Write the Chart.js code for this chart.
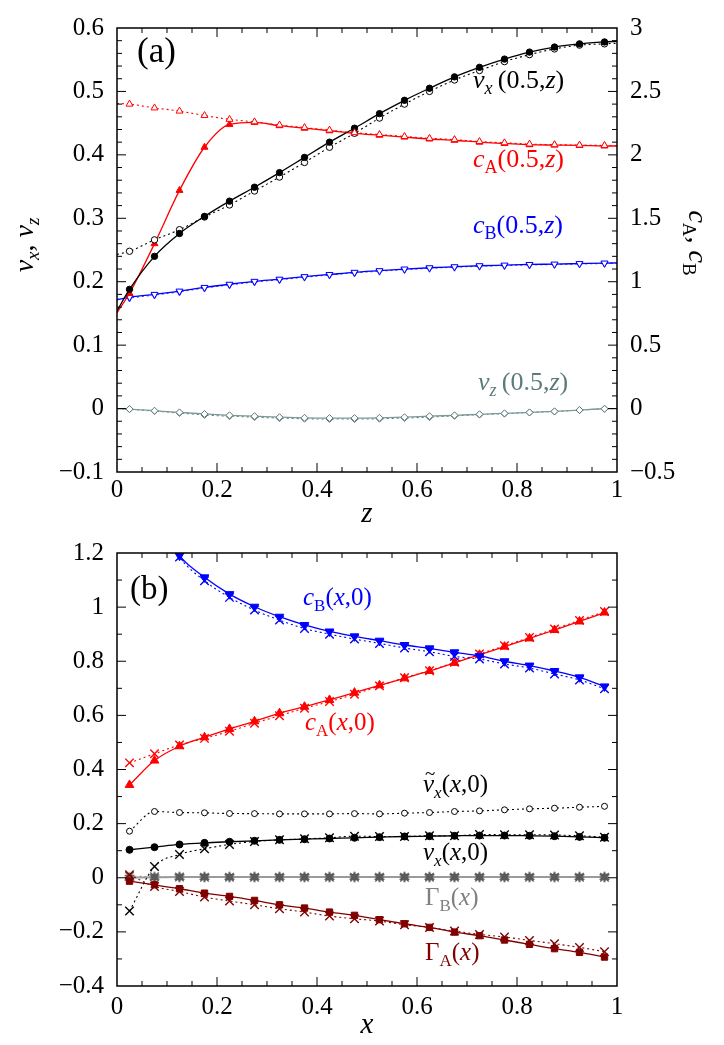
<!DOCTYPE html>
<html>
<head>
<meta charset="utf-8">
<script src="https://cdn.jsdelivr.net/npm/chart.js@4.4.0/dist/chart.umd.min.js"></script>
<style>
body { margin: 0; background: #fff; font-family: "Liberation Serif", serif; }
#wrap { position: relative; width: 724px; height: 1045px; }
canvas { position: absolute; left: 0; }
.probe { position: absolute; left: 0; top: 0; color: #fff; font-size: 10px; z-index: -1; }
</style>
</head>
<body>
<span class="probe">0.5 <i>x</i></span>
<div id="wrap">
<canvas id="chartA" width="724" height="525" style="top:0px"></canvas>
<canvas id="chartB" width="724" height="520" style="top:525px"></canvas>
</div>
<script>
var SERIF = '"Liberation Serif", serif';

// ---- panel (a): profiles along z at x = 0.5 (0 and 1 are curve ends only)
var zA = [0, 0.025, 0.075, 0.125, 0.175, 0.225, 0.275, 0.325, 0.375, 0.425, 0.475,
          0.525, 0.575, 0.625, 0.675, 0.725, 0.775, 0.825, 0.875, 0.925, 0.975, 1];
var vxSolidA = [0.154, 0.188, 0.240, 0.276, 0.303, 0.327, 0.349, 0.372, 0.396, 0.420, 0.442,
                0.465, 0.486, 0.505, 0.523, 0.538, 0.551, 0.562, 0.570, 0.575, 0.578, 0.579];
var vxOpenA = [0.243, 0.248, 0.266, 0.282, 0.302, 0.321, 0.343, 0.365, 0.388, 0.412, 0.434,
               0.458, 0.480, 0.500, 0.518, 0.533, 0.547, 0.558, 0.567, 0.573, 0.575, 0.576];
var cASolidA = [0.755, 0.909, 1.30, 1.72, 2.06, 2.24, 2.256, 2.23, 2.21, 2.19, 2.17,
                2.155, 2.14, 2.125, 2.115, 2.10, 2.09, 2.08, 2.077, 2.074, 2.07, 2.07];
var cAOpenA = [2.405, 2.40, 2.37, 2.345, 2.31, 2.28, 2.26, 2.235, 2.215, 2.195, 2.175,
               2.16, 2.145, 2.13, 2.12, 2.105, 2.095, 2.085, 2.08, 2.077, 2.074, 2.073];
var cBSolidA = [0.857, 0.878, 0.90, 0.926, 0.955, 0.98, 1.003, 1.02, 1.04, 1.057, 1.074,
                1.087, 1.10, 1.11, 1.118, 1.126, 1.131, 1.136, 1.139, 1.143, 1.147, 1.148];
var cBDotA = [0.862, 0.872, 0.895, 0.92, 0.95, 0.975, 0.998, 1.015, 1.036, 1.053, 1.07,
              1.083, 1.096, 1.106, 1.114, 1.122, 1.127, 1.132, 1.136, 1.14, 1.144, 1.146];
var vzSolidA = [0, -0.0008, -0.0034, -0.006, -0.0085, -0.0106, -0.012, -0.0136, -0.0146, -0.015, -0.015,
                -0.0146, -0.0136, -0.012, -0.0106, -0.009, -0.0075, -0.006, -0.0044, -0.0023, -0.0003, 0];
var vzDotA = [0, -0.001, -0.004, -0.007, -0.010, -0.012, -0.0135, -0.015, -0.016, -0.0165, -0.0165,
              -0.016, -0.015, -0.0135, -0.0115, -0.0095, -0.008, -0.0062, -0.0045, -0.0025, -0.0005, 0];

// ---- panel (b): profiles along x at z = 0
var xB = [0.025, 0.075, 0.125, 0.175, 0.225, 0.275, 0.325, 0.375, 0.425, 0.475,
          0.525, 0.575, 0.625, 0.675, 0.725, 0.775, 0.825, 0.875, 0.925, 0.975];
var cBSolidB = [1.58, 1.34, 1.19, 1.110, 1.048, 1.0015, 0.9645, 0.934, 0.910, 0.892,
                0.876, 0.860, 0.8476, 0.833, 0.8195, 0.800, 0.784, 0.764, 0.7405, 0.707];
var cBCrossB = [1.60, 1.35, 1.185, 1.0975, 1.036, 0.989, 0.952, 0.921, 0.900, 0.882,
                0.866, 0.849, 0.835, 0.818, 0.808, 0.790, 0.775, 0.753, 0.731, 0.698];
var cASolidB = [0.343, 0.433, 0.486, 0.519, 0.550, 0.578, 0.608, 0.632, 0.657, 0.684,
                0.711, 0.737, 0.764, 0.794, 0.824, 0.854, 0.8845, 0.9155, 0.947, 0.980];
var cACrossB = [0.4245, 0.458, 0.491, 0.515, 0.541, 0.571, 0.599, 0.626, 0.651, 0.678,
                0.709, 0.739, 0.765, 0.796, 0.827, 0.857, 0.888, 0.919, 0.951, 0.984];
var vxTildeB = [0.172, 0.2447, 0.241, 0.240, 0.2374, 0.237, 0.236, 0.236, 0.236, 0.237,
                0.236, 0.2386, 0.241, 0.2447, 0.247, 0.251, 0.2547, 0.257, 0.2606, 0.264];
var vxSolidB = [0.1034, 0.113, 0.123, 0.129, 0.133, 0.1366, 0.140, 0.1425, 0.145, 0.1477,
                0.150, 0.1525, 0.1536, 0.155, 0.156, 0.156, 0.155, 0.1536, 0.151, 0.1477];
var vxCrossB = [-0.123, 0.0417, 0.086, 0.107, 0.123, 0.134, 0.140, 0.1437, 0.1477, 0.1536,
                0.1525, 0.1525, 0.155, 0.155, 0.160, 0.159, 0.159, 0.158, 0.155, 0.150];
var gBSolidB = [0.000, 0.002, 0.003, 0.003, 0.003, 0.003, 0.003, 0.003, 0.003, 0.003,
                0.003, 0.003, 0.003, 0.003, 0.003, 0.003, 0.003, 0.003, 0.003, 0.003];
var gBCrossB = [0.006, 0.004, 0.003, 0.002, 0.002, 0.002, 0.002, 0.002, 0.002, 0.002,
                0.002, 0.002, 0.002, 0.002, 0.002, 0.002, 0.002, 0.002, 0.002, 0.002];
var gASolidB = [-0.0125, -0.026, -0.0406, -0.057, -0.069, -0.0838, -0.100, -0.112, -0.127, -0.139,
                -0.155, -0.170, -0.1835, -0.2008, -0.214, -0.230, -0.246, -0.262, -0.2757, -0.293];
var gACrossB = [0.011, -0.032, -0.0506, -0.0716, -0.086, -0.100, -0.1145, -0.127, -0.1416, -0.1515,
                -0.160, -0.1735, -0.1835, -0.197, -0.2093, -0.219, -0.2315, -0.2437, -0.2573, -0.273];

// tick labels
var xTicks = [0, 0.2, 0.4, 0.6, 0.8, 1];
var yTicksA = [-0.1, 0, 0.1, 0.2, 0.3, 0.4, 0.5, 0.6];
var y2TicksA = [-0.5, 0, 0.5, 1, 1.5, 2, 2.5, 3];
var yTicksB = [-0.4, -0.2, 0, 0.2, 0.4, 0.6, 0.8, 1, 1.2];

function pts(xs, ys) {
  return xs.map(function (x, i) { return { x: x, y: ys[i] }; });
}
function fmt(v) {
  var s = (Math.round(v * 100) / 100).toString();
  return s.replace('-', '\u2212');
}
function hexagram(color, r) {
  var c = document.createElement('canvas');
  var s = Math.ceil(r * 2 + 2);
  c.width = s; c.height = s;
  var g = c.getContext('2d');
  g.fillStyle = color;
  g.beginPath();
  for (var k = 0; k < 12; k++) {
    var ang = -Math.PI / 2 + k * Math.PI / 6;
    var rr = (k % 2 === 0) ? r : r / Math.sqrt(3);
    var px = s / 2 + rr * Math.cos(ang), py = s / 2 + rr * Math.sin(ang);
    if (k === 0) g.moveTo(px, py); else g.lineTo(px, py);
  }
  g.closePath();
  g.fill();
  return c;
}

// endpoints z=0 and z=1 carry no marker
function rA(size) {
  return function (c) { var z = zA[c.dataIndex]; return (z === 0 || z === 1) ? 0 : size; };
}

function line(data, color, opt) {
  var d = {
    data: data, borderColor: color, borderWidth: 1.3, pointBorderColor: color,
    pointBackgroundColor: color, pointBorderWidth: 1, cubicInterpolationMode: 'monotone',
    pointRadius: 3
  };
  for (var k in opt) d[k] = opt[k];
  return d;
}

// ---- text helpers (subscripts, italics)
function fontFor(st, size) {
  var it = st.charAt(0) === 'i';
  var sub = st.indexOf('s') > 0;
  return (it ? 'italic ' : '') + (sub ? Math.round(size * 0.68) : size) + 'px ' + SERIF;
}
function richWidth(ctx, parts, size) {
  var w = 0;
  parts.forEach(function (p) { ctx.font = fontFor(p[1], size); w += ctx.measureText(p[0]).width; });
  return w;
}
function drawRich(ctx, parts, x, y, size, color, align) {
  var cx = x;
  if (align === 'center') cx = x - richWidth(ctx, parts, size) / 2;
  ctx.fillStyle = color;
  ctx.textBaseline = 'alphabetic';
  ctx.textAlign = 'left';
  parts.forEach(function (p) {
    var st = p[1];
    ctx.font = fontFor(st, size);
    var sub = st.indexOf('s') > 0;
    var w = ctx.measureText(p[0]).width;
    ctx.fillText(p[0], cx, sub ? y + size * 0.22 : y);
    if (st.indexOf('t') > 0) {
      ctx.font = Math.round(size * 0.75) + 'px ' + SERIF;
      var tw = ctx.measureText('~').width;
      ctx.fillText('~', cx + w / 2 - tw / 2 + size * 0.06, y - size * 0.5);
    }
    cx += w;
  });
}

var labelPlugin = {
  id: 'labels',
  afterDraw: function (chart, args, opts) {
    var ctx = chart.ctx;
    ctx.save();
    opts.items.forEach(function (it) {
      ctx.save();
      ctx.translate(it.x, it.y);
      if (it.rot) ctx.rotate(it.rot);
      drawRich(ctx, it.parts, 0, 0, it.size, it.color, it.align);
      ctx.restore();
    });
    ctx.restore();
  }
};

// frame with inward major/minor ticks
var framePlugin = {
  id: 'frame',
  afterDatasetsDraw: function (chart, args, opts) {
    var ctx = chart.ctx, a = chart.chartArea;
    ctx.save();
    ctx.strokeStyle = '#000';
    ctx.lineWidth = 1;
    opts.marks.forEach(function (m) {
      var sc = chart.scales[m.axis];
      var n = Math.round((sc.max - sc.min) / m.step);
      for (var i = 1; i < n; i++) {
        var v = sc.min + i * m.step;
        var q = v / m.major;
        var len = Math.abs(q - Math.round(q)) < 1e-6 ? 9 : 5;
        var p = sc.getPixelForValue(v);
        m.sides.forEach(function (s) {
          ctx.beginPath();
          if (s === 'bottom') { ctx.moveTo(p, a.bottom); ctx.lineTo(p, a.bottom - len); }
          if (s === 'top') { ctx.moveTo(p, a.top); ctx.lineTo(p, a.top + len); }
          if (s === 'left') { ctx.moveTo(a.left, p); ctx.lineTo(a.left + len, p); }
          if (s === 'right') { ctx.moveTo(a.right, p); ctx.lineTo(a.right - len, p); }
          ctx.stroke();
        });
      }
    });
    ctx.lineWidth = 1.5;
    ctx.strokeRect(a.left, a.top, a.right - a.left, a.bottom - a.top);
    ctx.restore();
  }
};

function tickOpts(pad) {
  return {
    padding: pad, color: '#000', maxRotation: 0, autoSkip: false,
    font: { family: SERIF, size: 25 },
    callback: function (v) { return fmt(v); }
  };
}
function fixedTicks(list) {
  return function (scale) { scale.ticks = list.map(function (v) { return { value: v }; }); };
}

var DOT = [2, 3];
var white = '#ffffff';
var vzCol = '#5d7b7b';
var red = '#ff0000', blue = '#0000ff', maroon = '#800000', grayM = '#5a5a5a';

function drawAll() {
  new Chart(document.getElementById('chartA'), {
    type: 'line',
    data: {
      datasets: [
        line(pts(zA, cAOpenA), red, { yAxisID: 'y2', borderDash: DOT, borderWidth: 1.1,
          pointStyle: 'triangle', pointBackgroundColor: white, pointRadius: rA(4) }),
        line(pts(zA, vxSolidA), '#000', { yAxisID: 'y', pointRadius: rA(3.2) }),
        line(pts(zA, vxOpenA), '#000', { yAxisID: 'y', borderDash: DOT, borderWidth: 1.1,
          pointBackgroundColor: white, pointRadius: rA(3.2) }),
        line(pts(zA, cASolidA), red, { yAxisID: 'y2', pointStyle: 'triangle', pointRadius: rA(4) }),
        line(pts(zA, cBSolidA), blue, { yAxisID: 'y2', pointStyle: 'triangle', pointRotation: 180,
          pointBackgroundColor: white, pointRadius: rA(4) }),
        line(pts(zA, cBDotA), '#3a3aff', { yAxisID: 'y2', borderDash: DOT, borderWidth: 1.1,
          pointStyle: 'triangle', pointRotation: 180, pointBackgroundColor: white, pointRadius: rA(4) }),
        line(pts(zA, vzSolidA), vzCol, { yAxisID: 'y', borderColor: '#7f9999', pointStyle: 'rectRot',
          pointBackgroundColor: white, pointRadius: rA(3.5) }),
        line(pts(zA, vzDotA), vzCol, { yAxisID: 'y', borderDash: DOT, borderWidth: 1.1, pointStyle: 'rectRot',
          pointBackgroundColor: white, pointRadius: rA(3.5) })
      ]
    },
    options: {
      responsive: false, animation: false, events: [],
      layout: { padding: { top: 16, left: 0, right: 0, bottom: 0 } },
      plugins: {
        legend: { display: false }, tooltip: { enabled: false },
        frame: { marks: [
          { axis: 'x', step: 0.05, major: 0.2, sides: ['top', 'bottom'] },
          { axis: 'y', step: 0.02, major: 0.1, sides: ['left'] },
          { axis: 'y2', step: 0.1, major: 0.5, sides: ['right'] }
        ] },
        labels: { items: [
          { x: 137, y: 62, size: 35, color: '#000', parts: [['(a)', 'r']] },
          { x: 473, y: 88, size: 26, color: '#000',
            parts: [['v', 'i'], ['x', 'is'], ['\u2009(0.5,', 'r'], ['z', 'i'], [')', 'r']] },
          { x: 473, y: 167, size: 26, color: red,
            parts: [['c', 'i'], ['A', 'rs'], ['(0.5,', 'r'], ['z', 'i'], [')', 'r']] },
          { x: 473, y: 233, size: 26, color: blue,
            parts: [['c', 'i'], ['B', 'rs'], ['(0.5,', 'r'], ['z', 'i'], [')', 'r']] },
          { x: 478, y: 390, size: 26, color: vzCol,
            parts: [['v', 'i'], ['z', 'is'], ['\u2009(0.5,', 'r'], ['z', 'i'], [')', 'r']] },
          { x: 367, y: 522, size: 29, color: '#000', align: 'center', parts: [['z', 'i']] },
          { x: 33, y: 245, size: 28, color: '#000', align: 'center', rot: -Math.PI / 2,
            parts: [['v', 'i'], ['x', 'is'], [', ', 'r'], ['v', 'i'], ['z', 'is']] },
          { x: 689, y: 243, size: 28, color: '#000', align: 'center', rot: Math.PI / 2,
            parts: [['c', 'i'], ['A', 'rs'], [', ', 'r'], ['c', 'i'], ['B', 'rs']] }
        ] }
      },
      scales: {
        x: { type: 'linear', min: 0, max: 1, position: 'bottom',
          ticks: tickOpts(3), afterBuildTicks: fixedTicks(xTicks),
          grid: { display: false, drawTicks: false }, border: { display: false },
          afterFit: function (s) { s.height = 53; } },
        y: { type: 'linear', min: -0.1, max: 0.6, position: 'left',
          ticks: tickOpts(13), afterBuildTicks: fixedTicks(yTicksA),
          grid: { display: false, drawTicks: false }, border: { display: false },
          afterFit: function (s) { s.width = 117; } },
        y2: { type: 'linear', min: -0.5, max: 3, position: 'right',
          ticks: tickOpts(13), afterBuildTicks: fixedTicks(y2TicksA),
          grid: { display: false, drawTicks: false }, border: { display: false },
          afterFit: function (s) { s.width = 107; } }
      }
    },
    plugins: [framePlugin, labelPlugin]
  });

  var star = hexagram(grayM, 6);

  new Chart(document.getElementById('chartB'), {
    type: 'line',
    data: {
      datasets: [
        line(pts(xB, cBSolidB), blue, { pointStyle: 'triangle', pointRotation: 180, pointRadius: 5 }),
        line(pts(xB, cBCrossB), blue, { borderDash: DOT, borderWidth: 1.1, pointStyle: 'crossRot',
          pointRadius: 6, pointBorderWidth: 1.4 }),
        line(pts(xB, cASolidB), red, { pointStyle: 'triangle', pointRadius: 5 }),
        line(pts(xB, cACrossB), red, { borderDash: DOT, borderWidth: 1.1, pointStyle: 'crossRot',
          pointRadius: 6, pointBorderWidth: 1.4 }),
        line(pts(xB, vxSolidB), '#000', { pointRadius: 3.5 }),
        line(pts(xB, vxCrossB), '#000', { borderDash: DOT, borderWidth: 1.1, pointStyle: 'crossRot',
          pointRadius: 6, pointBorderWidth: 1.4 }),
        line(pts(xB, vxTildeB), '#000', { borderDash: DOT, borderWidth: 1.1, pointBackgroundColor: white,
          pointRadius: 3 }),
        line(pts(xB, gASolidB), maroon, { pointStyle: 'rect', pointRadius: 4.5 }),
        line(pts(xB, gACrossB), maroon, { borderDash: DOT, borderWidth: 1.1, pointStyle: 'crossRot',
          pointRadius: 6, pointBorderWidth: 1.4 }),
        line(pts(xB, gBSolidB), grayM, { borderColor: '#9a9a9a', borderWidth: 2, pointStyle: star }),
        line(pts(xB, gBCrossB), grayM, { borderColor: '#9a9a9a', borderDash: DOT, borderWidth: 1.1,
          pointStyle: 'crossRot', pointRadius: 6, pointBorderWidth: 1.4 })
      ]
    },
    options: {
      responsive: false, animation: false, events: [],
      layout: { padding: { top: 27, left: 0, right: 107, bottom: 0 } },
      plugins: {
        legend: { display: false }, tooltip: { enabled: false },
        frame: { marks: [
          { axis: 'x', step: 0.05, major: 0.2, sides: ['top', 'bottom'] },
          { axis: 'y', step: 0.1, major: 0.2, sides: ['left', 'right'] }
        ] },
        labels: { items: [
          { x: 130, y: 74, size: 33, color: '#000', parts: [['(b)', 'r']] },
          { x: 303, y: 80, size: 25, color: blue,
            parts: [['c', 'i'], ['B', 'rs'], ['(', 'r'], ['x', 'i'], [',0)', 'r']] },
          { x: 305, y: 205, size: 25, color: red,
            parts: [['c', 'i'], ['A', 'rs'], ['(', 'r'], ['x', 'i'], [',0)', 'r']] },
          { x: 423, y: 267, size: 25, color: '#000',
            parts: [['v', 'it'], ['x', 'is'], ['(', 'r'], ['x', 'i'], [',0)', 'r']] },
          { x: 423, y: 335, size: 25, color: '#000',
            parts: [['v', 'i'], ['x', 'is'], ['(', 'r'], ['x', 'i'], [',0)', 'r']] },
          { x: 425, y: 380, size: 25, color: '#808080',
            parts: [['\u0393', 'r'], ['B', 'rs'], ['(', 'r'], ['x', 'i'], [')', 'r']] },
          { x: 425, y: 435, size: 25, color: maroon,
            parts: [['\u0393', 'r'], ['A', 'rs'], ['(', 'r'], ['x', 'i'], [')', 'r']] },
          { x: 367, y: 508, size: 29, color: '#000', align: 'center', parts: [['x', 'i']] }
        ] }
      },
      scales: {
        x: { type: 'linear', min: 0, max: 1, position: 'bottom',
          ticks: tickOpts(6), afterBuildTicks: fixedTicks(xTicks),
          grid: { display: false, drawTicks: false }, border: { display: false },
          afterFit: function (s) { s.height = 59; } },
        y: { type: 'linear', min: -0.4, max: 1.2, position: 'left',
          ticks: tickOpts(13), afterBuildTicks: fixedTicks(yTicksB),
          grid: { display: false, drawTicks: false }, border: { display: false },
          afterFit: function (s) { s.width = 117; } }
      }
    },
    plugins: [framePlugin, labelPlugin]
  });
}

window.addEventListener('load', function () {
  requestAnimationFrame(drawAll);
});
</script>
</body>
</html>
